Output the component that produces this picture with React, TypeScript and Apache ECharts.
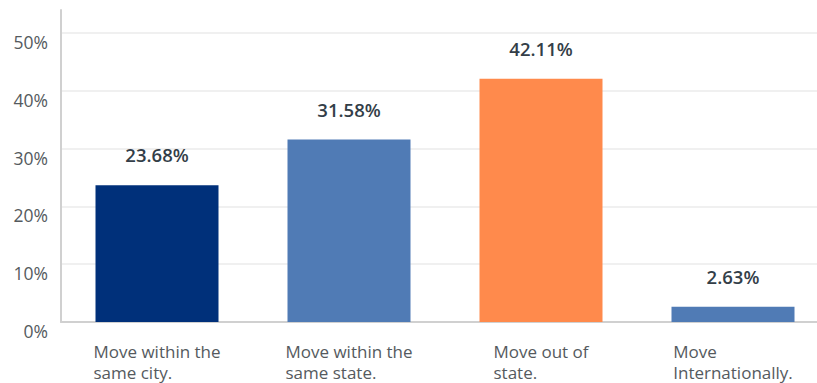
import React, { useEffect, useRef } from "react";
import * as echarts from "echarts";

const categories: string[] = [
  "Move within the\nsame city.",
  "Move within the\nsame state.",
  "Move out of\nstate.",
  "Move\nInternationally.",
];
const values: number[] = [23.68, 31.58, 42.11, 2.63];
const barColors: string[] = ["#00307a", "#507bb5", "#ff8a4c", "#507bb5"];
const yMin = 0;
const yMax = 54;
const yInterval = 10;

const FONT = "'Open Sans', sans-serif";

export default function App() {
  const ref = useRef<HTMLDivElement>(null);
  useEffect(() => {
    if (!ref.current) return;
    const chart = echarts.init(ref.current, null, { renderer: "svg" });
    chart.setOption({
      animation: false,
      grid: { left: 61, top: 10, width: 768, height: 312, containLabel: false },
      xAxis: {
        type: "category",
        data: categories,
        axisLine: { show: true, lineStyle: { color: "#d0d0d0", width: 2 } },
        axisTick: { show: false },
        axisLabel: {
          interval: 0,
          margin: 19,
          color: "#555a5e",
          fontFamily: FONT,
          fontSize: 17,
          formatter: (v: string) =>
            v.split("\n").map((l) => `{a|${l}}`).join("\n"),
          rich: {
            a: {
              fontFamily: FONT,
              fontSize: 17,
              color: "#555a5e",
              lineHeight: 21,
              align: "left",
            },
          },
        },
      },
      yAxis: {
        type: "value",
        min: yMin,
        max: yMax,
        interval: yInterval,
        axisLine: { show: true, lineStyle: { color: "#d0d0d0", width: 2 } },
        axisTick: { show: false },
        splitLine: {
          show: true,
          showMaxLine: false,
          lineStyle: { color: "#ebebeb", width: 1.5 },
        },
        axisLabel: {
          color: "#555a5e",
          fontFamily: FONT,
          fontSize: 17.5,
          margin: 13,
          verticalAlign: "top",
          showMaxLabel: false,
          formatter: (v: number) => (v % yInterval === 0 ? `${v}%` : ""),
        },
      },
      series: [
        {
          type: "bar",
          barWidth: 123,
          data: values.map((v, i) => ({ value: v, itemStyle: { color: barColors[i] } })),
          label: {
            show: true,
            position: "top",
            distance: 21,
            fontFamily: FONT,
            fontSize: 18.5,
            fontWeight: 600,
            color: "#333e48",
            formatter: (p: any) => `${p.value.toFixed(2)}%`,
          },
        },
      ],
    });
    return () => chart.dispose();
  }, []);
  return (
    <div
      style={{ position: "absolute", left: 0, top: 0, width: 817, height: 383, overflow: "hidden", background: "#fff" }}
    >
      <div ref={ref} style={{ width: 840, height: 383 }} />
    </div>
  );
}
